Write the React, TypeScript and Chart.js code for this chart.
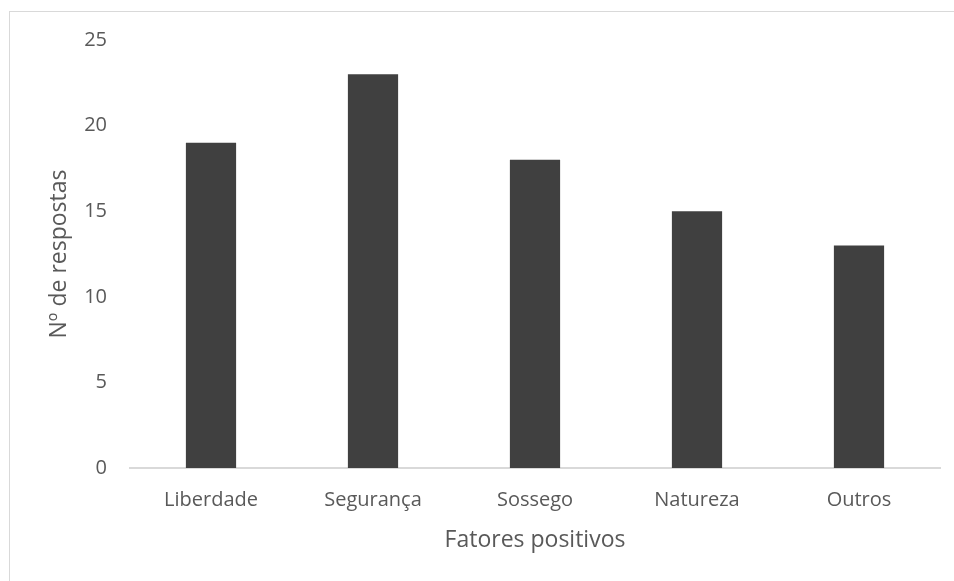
import React, { useEffect, useRef } from "react";
import { Chart, registerables } from "chart.js";

Chart.register(...registerables);

const categories = ["Liberdade", "Segurança", "Sossego", "Natureza", "Outros"];
const respostas = [19, 23, 18, 15, 13];
const yMin = 0;
const yMax = 25;
const yStep = 5;
const xTitle = "Fatores positivos";
const yTitle = "Nº de respostas";

export default function App() {
  const ref = useRef<HTMLCanvasElement | null>(null);

  useEffect(() => {
    if (!ref.current) return;
    const font = "'Open Sans', sans-serif";
    const chart = new Chart(ref.current, {
      type: "bar",
      data: {
        labels: categories,
        datasets: [
          {
            data: respostas,
            backgroundColor: "#404040",
            barPercentage: 0.31,
            categoryPercentage: 1,
          },
        ],
      },
      options: {
        animation: false,
        responsive: false,
        maintainAspectRatio: false,
        layout: { padding: { left: 40, right: 14, top: 40, bottom: 0 } },
        plugins: { legend: { display: false }, tooltip: { enabled: false } },
        scales: {
          x: {
            grid: { display: false, drawTicks: false },
            border: { display: true, color: "#d9d9d9", width: 2 },
            ticks: { color: "#595959", font: { family: font, size: 20 }, padding: 20, maxRotation: 0 },
            title: {
              display: true,
              text: xTitle,
              color: "#595959",
              font: { family: font, size: 23 },
              padding: { top: 0, bottom: 27 },
            },
            afterFit: (s: any) => {
              s.height = 113;
            },
          },
          y: {
            min: yMin,
            max: yMax,
            grid: { display: false, drawTicks: false },
            border: { display: false },
            ticks: { stepSize: yStep, color: "#595959", font: { family: font, size: 20 }, padding: 23 },
            title: {
              display: true,
              text: yTitle,
              color: "#595959",
              font: { family: font, size: 23 },
              padding: { top: 6, bottom: 0 },
            },
            afterFit: (s: any) => {
              s.width = 90;
            },
          },
        },
      },
    });
    return () => chart.destroy();
  }, []);

  return (
    <div style={{ position: "absolute", left: 0, top: 0, width: 954, height: 581, overflow: "hidden", background: "#fff" }}>
      <div
        style={{
          position: "absolute",
          left: 9,
          top: 11,
          width: 1000,
          height: 700,
          borderLeft: "1px solid #d9d9d9",
          borderTop: "1px solid #d9d9d9",
          boxSizing: "border-box",
        }}
      />
      <canvas ref={ref} width={954} height={581} style={{ position: "absolute", left: 0, top: 0 }} />
    </div>
  );
}
